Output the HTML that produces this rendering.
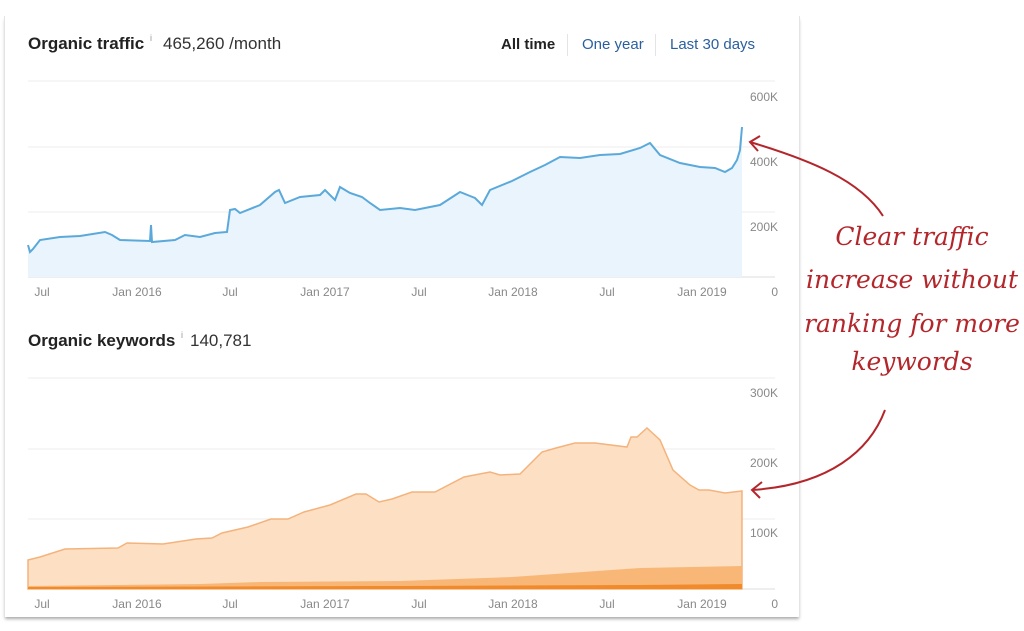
<!DOCTYPE html>
<html><head><meta charset="utf-8"><style>
body{margin:0;background:#fff;width:1024px;height:631px;overflow:hidden;font-family:"Liberation Sans",sans-serif}
.card{position:absolute;left:4px;top:16px;width:794px;height:601px;border-left:1px solid #e4e4e4;border-right:1px solid #e4e4e4;box-shadow:0 3px 3px -1px #aaa}
.t{position:absolute;font-size:17px;color:#333;white-space:nowrap}
.hand{position:absolute;font-family:"DejaVu Serif",serif;font-style:italic;color:#b3262b;font-size:25px;white-space:nowrap;text-align:center;width:260px;left:782px}
</style></head><body>
<div class="card"></div>
<div class="t" style="left:28px;top:34px;font-weight:bold;color:#222">Organic traffic</div>
<div class="t" style="left:150px;top:33px;font-size:9px;color:#999">i</div>
<div class="t" style="left:163px;top:34px">465,260 /month</div>
<div class="t" style="left:501px;top:36px;font-size:15px;font-weight:bold;color:#222">All time</div>
<div style="position:absolute;left:567px;top:34px;width:1px;height:22px;background:#e4e4e4"></div>
<div class="t" style="left:582px;top:36px;font-size:15px;color:#2a5f9e">One year</div>
<div style="position:absolute;left:655px;top:34px;width:1px;height:22px;background:#e4e4e4"></div>
<div class="t" style="left:670px;top:36px;font-size:15px;color:#2a5f9e">Last 30 days</div>
<div class="t" style="left:28px;top:331px;font-weight:bold;color:#222">Organic keywords</div>
<div class="t" style="left:181px;top:330px;font-size:9px;color:#999">i</div>
<div class="t" style="left:190px;top:331px">140,781</div>
<svg width="1024" height="631" style="position:absolute;left:0;top:0" font-family="Liberation Sans" font-size="12" fill="#888">
<g stroke="#ececec" stroke-width="1">
<line x1="28" y1="81" x2="775" y2="81"/><line x1="28" y1="147" x2="775" y2="147"/><line x1="28" y1="212" x2="775" y2="212"/><line x1="28" y1="277" x2="775" y2="277" stroke="#ddd"/>
<line x1="28" y1="378" x2="775" y2="378"/><line x1="28" y1="449" x2="775" y2="449"/><line x1="28" y1="519" x2="775" y2="519"/><line x1="28" y1="589" x2="775" y2="589" stroke="#ddd"/>
</g>
<path d="M28,277 L28,245 30,252 33,249 40,240 60,237 80,236 105,232 112,235 120,240 150,241 151,225 152,242 175,240 185,235 200,237 215,233 227,232 230,210 235,209 240,213 260,205 275,192 279,190 285,203 300,197 320,195 325,190 335,200 340,187 350,193 362,197 370,203 380,210 400,208 415,210 440,205 460,192 470,196 475,198 482,205 490,190 512,181 530,172 545,165 560,157 580,158 600,155 620,154 640,148 650,143 660,155 680,163 700,167 715,168 725,172 732,168 737,160 740,150 742,127 L742,277 Z" fill="#eaf4fc"/>
<path d="M28,245 30,252 33,249 40,240 60,237 80,236 105,232 112,235 120,240 150,241 151,225 152,242 175,240 185,235 200,237 215,233 227,232 230,210 235,209 240,213 260,205 275,192 279,190 285,203 300,197 320,195 325,190 335,200 340,187 350,193 362,197 370,203 380,210 400,208 415,210 440,205 460,192 470,196 475,198 482,205 490,190 512,181 530,172 545,165 560,157 580,158 600,155 620,154 640,148 650,143 660,155 680,163 700,167 715,168 725,172 732,168 737,160 740,150 742,127" fill="none" stroke="#5aa9da" stroke-width="2"/>
<path d="M28,589 L28,560 40,557 65,549 118,548 127,543 163,544 196,539 212,538 222,533 248,527 271,519 288,519 304,512 330,505 356,494 366,494 379,502 392,499 412,492 435,492 464,477 490,472 500,475 520,474 542,452 556,448 575,443 595,443 627,447 631,437 637,437 647,428 660,440 673,470 690,485 699,490 709,490 725,493 742,491 L742,589 Z" fill="#fde0c4" stroke="#f4b37c" stroke-width="1.5"/>
<path d="M28,589 L28,586 200,584 260,582 400,581 512,577 640,568 742,566 L742,589 Z" fill="#f9b777"/>
<path d="M28,589 L28,587 400,586 640,585 742,584 L742,589 Z" fill="#f08a2a"/>
<g text-anchor="middle">
<text x="42" y="296">Jul</text><text x="137" y="296">Jan 2016</text><text x="230" y="296">Jul</text><text x="325" y="296">Jan 2017</text><text x="419" y="296">Jul</text><text x="513" y="296">Jan 2018</text><text x="607" y="296">Jul</text><text x="702" y="296">Jan 2019</text>
<text x="42" y="608">Jul</text><text x="137" y="608">Jan 2016</text><text x="230" y="608">Jul</text><text x="325" y="608">Jan 2017</text><text x="419" y="608">Jul</text><text x="513" y="608">Jan 2018</text><text x="607" y="608">Jul</text><text x="702" y="608">Jan 2019</text>
</g>
<g text-anchor="end">
<text x="778" y="101">600K</text><text x="778" y="166">400K</text><text x="778" y="231">200K</text><text x="778" y="296">0</text>
<text x="778" y="397">300K</text><text x="778" y="467">200K</text><text x="778" y="537">100K</text><text x="778" y="608">0</text>
</g>
<g fill="none" stroke="#b3262b" stroke-width="2">
<path d="M883,216 C860,180 810,160 750,142"/><path d="M760,136 L750,142 L758,151"/>
<path d="M885,410 C870,450 830,485 752,490"/><path d="M762,482 L752,490 L760,498"/>
</g>
</svg>
<div class="hand" style="top:222px">Clear traffic</div>
<div class="hand" style="top:265px">increase without</div>
<div class="hand" style="top:309px">ranking for more</div>
<div class="hand" style="top:347px">keywords</div>
</body></html>
